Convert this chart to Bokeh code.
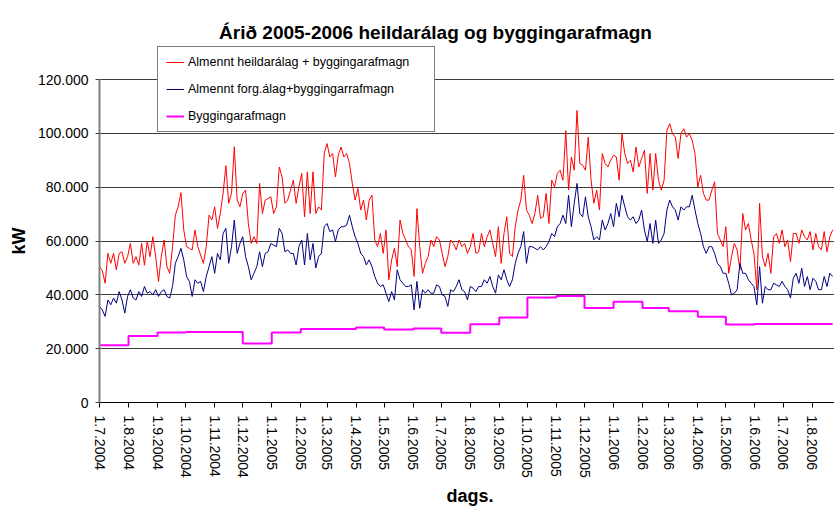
import pandas as pd
from bokeh.plotting import figure
from bokeh.models import Range1d, FixedTicker, CustomJSTickFormatter, Label, ColumnDataSource, Title
from bokeh.embed import file_html
from bokeh.resources import INLINE

# ---------------- data ----------------
title_text = "Árið 2005-2006 heildarálag og byggingarafmagn"
x_title = "dags."
y_title = "kW"
name_total = "Almennt heildarálag + byggingarafmagn"
name_prio = "Almennt forg.álag+byggingarrafmagn"
name_bygg = "Byggingarafmagn"

start_date = "2004-07-01"   # first reading
step_days = 3               # readings every 3 days
view_end = "2006-08-25"     # right edge of the visible period

# Almennt heildarálag + byggingarafmagn (thousand kW)
total_k = [
    50.5, 49.0, 44.3, 55.4, 51.7, 55.4, 49.3, 55.4, 56.0, 51.7, 54.2, 59.1, 51.7, 54.2, 51.0, 59.1, 51.0, 60.0, 54.2, 61.6,
    54.2, 45.0, 54.2, 60.4, 50.5, 48.0, 57.9, 69.6, 72.7, 78.0, 64.1, 57.9, 57.3, 56.7, 64.1, 57.9, 54.8, 51.7, 57.9, 69.6,
    67.8, 72.7, 64.7, 70.2, 77.7, 88.0, 74.0, 77.7, 95.0, 75.2, 72.7, 77.7, 78.9, 66.5, 59.1, 61.6, 59.1, 81.4, 70.2, 75.2,
    75.8, 76.4, 70.2, 72.7, 87.5, 83.8, 74.0,
    75.2, 78.9, 82.6, 74.0, 80.1, 85.1, 69.0, 85.7, 70.2, 85.7, 70.2, 72.7, 71.5, 92.5, 96.2, 91.2, 92.5, 83.8, 91.9, 94.9,
    91.2, 92.5, 88.8, 81.4, 75.2, 79.5, 71.5, 75.2, 67.8, 75.2, 77.0, 60.4, 57.9, 62.8, 55.4, 64.1, 45.6, 53.0, 57.3, 50.5,
    67.8, 62.8, 60.4, 57.9, 56.7, 46.8, 72.0, 57.9, 48.0, 51.7, 54.2, 60.4, 57.9, 61.6, 60.4, 55.4, 50.5, 54.2, 60.4, 59.1,
    56.7, 60.4, 57.9, 59.1, 55.4, 57.9,
    62.8, 55.4, 56.0, 62.8, 57.9, 61.6, 64.1, 59.1, 54.2, 65.3, 51.7, 62.8, 69.0, 55.4, 54.2, 65.3, 71.5, 75.2, 84.4, 71.5,
    69.6, 66.5, 70.2, 77.0, 68.4, 69.0, 77.7, 66.5, 82.6, 80.1, 85.1, 86.3, 82.6, 101.0, 79.0, 91.2, 86.3, 108.5, 88.8, 88.1,
    86.3, 98.6, 82.6, 74.0, 78.9, 71.5, 92.5, 88.8, 87.5, 90.0, 91.9, 91.2, 82.6, 99.9, 92.5, 88.8, 90.0, 85.7, 94.9, 87.5,
    90.6, 93.7, 77.7, 92.5, 78.9,
    92.5, 82.6, 78.9, 82.6, 101.0, 103.6, 99.9, 98.6, 90.6, 99.9, 101.7, 98.6, 99.9, 97.4, 92.5, 80.1, 84.4, 77.7, 75.2, 75.2,
    78.9, 82.0, 62.8, 60.4, 57.9, 65.3, 48.0, 54.2, 59.1, 56.7, 49.3, 70.2, 64.1, 66.5, 60.4, 55.4, 41.9, 74.0, 54.2, 50.5,
    55.4, 48.0, 61.6, 62.8, 59.1, 64.1, 57.9, 60.4, 52.3, 62.8, 62.8, 59.1, 64.1, 61.6, 60.4, 63.5, 56.7, 62.8, 57.9, 56.7,
    63.5, 56.0, 61.6, 64.1,
]

# Almennt forg.álag+byggingarrafmagn (thousand kW)
prio_k = [
    35.7, 34.4, 32.0, 38.1, 36.3, 38.8, 36.9, 41.2, 38.1, 33.2, 39.4, 41.9, 38.8, 38.1, 41.2, 39.4, 43.1, 40.6, 41.2, 40.0,
    41.9, 39.4, 41.2, 41.9, 39.4, 38.8, 43.1, 51.7, 54.2, 57.3, 53.0, 46.8, 45.0, 39.4, 45.6, 44.3, 45.0, 41.2, 46.8, 50.5,
    54.2, 48.0, 55.4, 53.0, 62.8, 64.7, 51.7, 57.9, 67.8, 55.4, 59.1, 61.6, 54.2, 50.5, 45.6, 48.0, 50.5, 56.0, 50.5, 55.4,
    56.0, 59.1, 58.5, 57.9, 64.7, 62.8, 56.0,
    56.7, 55.4, 55.4, 51.1, 57.9, 60.4, 51.1, 62.8, 53.0, 59.1, 50.0, 54.2, 55.4, 65.3, 66.5, 63.5, 64.1, 59.8, 64.1, 65.3,
    65.3, 65.9, 69.6, 65.3, 61.6, 59.1, 55.4, 54.2, 51.1, 53.0, 50.5, 46.8, 44.3, 43.1, 43.7, 40.6, 37.5, 41.2, 38.1, 49.3,
    45.6, 44.3, 43.1, 43.1, 43.7, 34.4, 45.0, 35.0, 41.9, 40.6, 41.9, 40.6, 40.6, 43.7, 43.1, 40.0, 39.4, 35.7, 41.9, 41.2,
    43.1, 45.6, 41.9, 41.2, 38.1, 43.1,
    42.5, 41.2, 43.1, 43.1, 45.6, 44.3, 46.8, 43.1, 40.6, 47.4, 45.6, 49.3, 45.6, 43.1, 45.6, 51.7, 55.4, 57.9, 63.5, 51.7,
    57.9, 57.9, 57.3, 56.7, 57.9, 56.7, 57.9, 59.8, 62.8, 61.6, 65.3, 66.5, 69.6, 66.5, 77.0, 65.3, 74.0, 81.4, 70.2, 69.0,
    76.4, 69.0, 65.3, 60.4, 61.6, 60.4, 67.8, 64.1, 66.5, 70.2, 65.3, 74.0, 69.0, 77.0, 72.7, 69.0, 67.8, 69.0, 66.5, 67.8,
    71.5, 64.1, 59.8, 66.5, 59.1,
    67.8, 59.1, 60.4, 62.8, 71.5, 75.2, 72.7, 71.5, 67.8, 72.7, 71.5, 72.7, 72.7, 77.0, 71.5, 66.5, 62.8, 57.9, 55.4, 57.9,
    57.9, 55.4, 51.7, 50.5, 48.0, 48.0, 44.3, 40.0, 40.6, 41.9, 51.7, 48.0, 48.0, 45.6, 44.3, 43.1, 36.3, 50.5, 36.9, 43.1,
    41.9, 41.9, 44.3, 43.7, 43.1, 45.0, 43.1, 41.9, 38.8, 46.2, 48.0, 44.3, 49.9, 43.1, 46.8, 41.9, 46.2, 45.0, 41.9, 41.9,
    46.8, 43.1, 48.0, 46.8,
]

# Byggingarafmagn, monthly level from the first of each month (thousand kW)
bygg_k = [21.3, 24.7, 26.0, 26.2, 26.2, 21.9, 26.0, 27.3, 27.3, 27.9, 27.1, 27.5, 25.9,
          29.1, 31.6, 39.0, 39.6, 35.1, 37.4, 35.1, 33.9, 31.9, 29.0, 29.2, 29.2, 29.2]

month_labels = ["1.7.2004", "1.8.2004", "1.9.2004", "1.10.2004", "1.11.2004", "1.12.2004",
                "1.1.2005", "1.2.2005", "1.3.2005", "1.4.2005", "1.5.2005", "1.6.2005",
                "1.7.2005", "1.8.2005", "1.9.2005", "1.10.2005", "1.11.2005", "1.12.2005",
                "1.1.2006", "1.2.2006", "1.3.2006", "1.4.2006", "1.5.2006", "1.6.2006",
                "1.7.2006", "1.8.2006"]

y_ticks = [0, 20000, 40000, 60000, 80000, 100000, 120000]
y_labels = ["0", "20.000", "40.000", "60.000", "80.000", "100.000", "120.000"]

# ---------------- layout constants ----------------
FONT = "Liberation Sans"
W, H = 834, 511
BORDER_LEFT, BORDER_BOTTOM = 99, 109
FRAME_H = H - BORDER_BOTTOM          # frame runs from the very top of the canvas
AXIS_TOP_PX = 79                     # 120.000 gridline sits this far below the canvas top
y_view_max = y_ticks[-1] * FRAME_H / (FRAME_H - AXIS_TOP_PX)

# ---------------- build ----------------
dates_total = pd.date_range(start_date, periods=len(total_k), freq=f"{step_days}D")
dates_prio = pd.date_range(start_date, periods=len(prio_k), freq=f"{step_days}D")
month_dates = pd.to_datetime(month_labels, format="%d.%m.%Y")
month_ms = [float(d.value // 10**6) for d in month_dates]
last_date = max(dates_total[-1], dates_prio[-1])

x_start_ms = month_ms[0]
x_end_ms = float(pd.Timestamp(view_end).value // 10**6)

p = figure(width=W, height=H, x_axis_type="datetime",
           x_range=Range1d(x_start_ms, x_end_ms), y_range=Range1d(0, y_view_max),
           output_backend="svg", toolbar_location=None,
           min_border_left=BORDER_LEFT, min_border_right=0, min_border_top=0,
           min_border_bottom=BORDER_BOTTOM)
p.outline_line_color = None
p.background_fill_color = "white"
p.border_fill_color = "white"

src_total = ColumnDataSource(dict(x=list(dates_total), y=[v * 1000 for v in total_k]))
src_prio = ColumnDataSource(dict(x=list(dates_prio), y=[v * 1000 for v in prio_k]))
src_bygg = ColumnDataSource(dict(x=list(month_dates) + [last_date],
                                 y=[v * 1000 for v in bygg_k] + [bygg_k[-1] * 1000]))

p.line("x", "y", source=src_total, color="#FF0000", line_width=1, legend_label=name_total)
p.line("x", "y", source=src_prio, color="#000080", line_width=1, legend_label=name_prio)
p.step("x", "y", source=src_bygg, mode="after", color="#FF00FF", line_width=2, legend_label=name_bygg)

# grid
p.xgrid.grid_line_color = None
p.ygrid.ticker = FixedTicker(ticks=y_ticks)
p.ygrid.grid_line_color = "#3c3c3c"
p.ygrid.grid_line_width = 1.2

LOOKUP = """
    let best = 0, bd = Infinity;
    for (let i = 0; i < tvals.length; i++) { const d = Math.abs(tvals[i] - tick); if (d < bd) { bd = d; best = i; } }
    return tlabels[best];
"""

# y axis
yax = p.yaxis[0]
yax.bounds = (y_ticks[0], y_ticks[-1])
yax.ticker = FixedTicker(ticks=y_ticks)
yax.formatter = CustomJSTickFormatter(args=dict(tvals=y_ticks, tlabels=y_labels), code=LOOKUP)
yax.axis_line_color = "#808080"
yax.axis_line_width = 2
yax.major_tick_line_color = "#404040"
yax.major_tick_out = 4
yax.major_tick_in = 0
yax.minor_tick_line_color = None
yax.major_label_standoff = 7
yax.major_label_text_font = FONT
yax.major_label_text_font_size = "14px"
yax.major_label_text_color = "black"

# x axis
xax = p.xaxis[0]
xax.ticker = FixedTicker(ticks=month_ms)
xax.formatter = CustomJSTickFormatter(args=dict(tvals=month_ms, tlabels=month_labels), code=LOOKUP)
xax.axis_line_color = "black"
xax.axis_line_width = 1
xax.major_tick_line_color = "black"
xax.major_tick_out = 5
xax.major_tick_in = 0
xax.minor_tick_line_color = None
xax.major_label_orientation = "vertical"
xax.major_label_standoff = 8
xax.major_label_text_font = FONT
xax.major_label_text_font_size = "14px"
xax.major_label_text_color = "black"

# axis titles as side-panel titles so they can be placed like the reference
p.add_layout(Title(text=y_title, align="left", offset=148, vertical_align="middle", standoff=10,
                   text_font=FONT, text_font_size="18px", text_font_style="bold",
                   text_color="black"), "left")
p.add_layout(Title(text=x_title, align="left", offset=347, vertical_align="bottom", standoff=7,
                   text_font=FONT, text_font_size="18px", text_font_style="bold",
                   text_color="black"), "below")

# legend
leg = p.legend[0]
leg.location = (58, 270)
leg.padding = 8
leg.spacing = 13
leg.margin = 0
leg.glyph_width = 18
leg.glyph_height = 14
leg.label_height = 14
leg.label_standoff = 4
leg.label_width = 238
leg.label_text_font = FONT
leg.label_text_font_size = "12.5px"
leg.label_text_color = "black"
leg.border_line_color = "black"
leg.border_line_width = 1
leg.background_fill_color = "white"
leg.background_fill_alpha = 1.0

# chart title
p.add_layout(Label(x=336, y=370, x_units="screen", y_units="screen", text=title_text,
                   text_font=FONT, text_font_size="19px", text_font_style="bold",
                   text_align="center", text_baseline="alphabetic", text_color="black"))

open("out.html", "w").write(file_html(p, INLINE))
